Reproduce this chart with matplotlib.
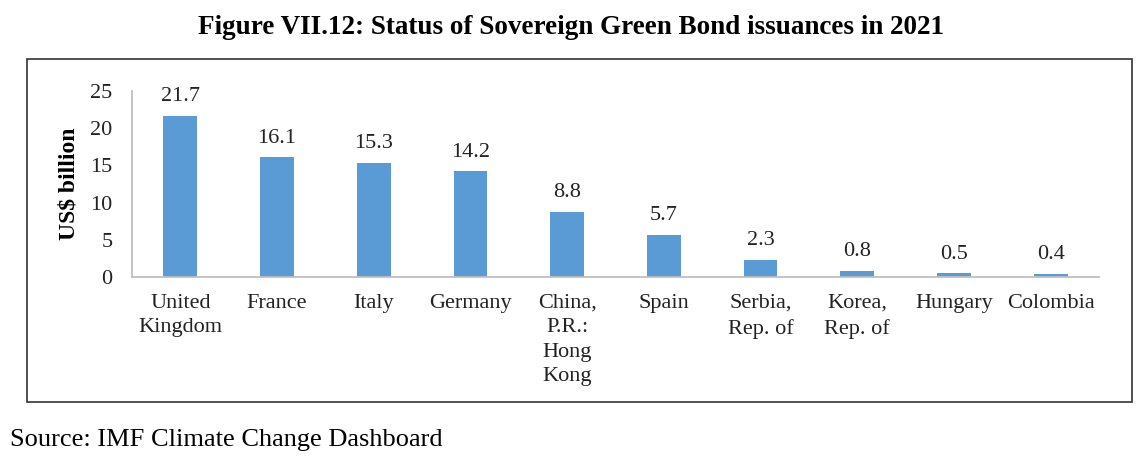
import matplotlib.pyplot as plt
from matplotlib.patches import Rectangle

countries = ['United\nKingdom', 'France', 'Italy', 'Germany',
             'China,\nP.R.:\nHong\nKong', 'Spain', 'Serbia,\nRep. of',
             'Korea,\nRep. of', 'Hungary', 'Colombia']
values = [21.7, 16.1, 15.3, 14.2, 8.8, 5.7, 2.3, 0.8, 0.5, 0.4]
yticks = [0, 5, 10, 15, 20, 25]

plt.rcParams['font.family'] = ['Liberation Serif', 'DejaVu Serif']

fig = plt.figure(figsize=(11.42, 4.74), dpi=100)
ax = fig.add_axes([0.1156, 0.4156, 0.9623 - 0.1156, 0.808 - 0.4156])

x = range(len(values))
ax.bar(x, values, width=0.35, color='#5B9BD5')
for i, v in zip(x, values):
    ax.annotate('%.1f' % v, (i, v), xytext=(0, 7), textcoords='offset points',
                ha='center', va='bottom', fontsize=16, color='#222222')

ax.set_xlim(-0.5, len(values) - 0.5)
ax.set_ylim(0, 25)
ax.set_yticks(yticks)
ax.set_xticks(list(x))
ax.set_xticklabels(countries, linespacing=1.4)
ax.tick_params(axis='both', length=0, labelsize=16, colors='#222222')
ax.tick_params(axis='x', pad=12)
ax.tick_params(axis='y', pad=14)
for s in ['top', 'right']:
    ax.spines[s].set_visible(False)
for s in ['left', 'bottom']:
    ax.spines[s].set_color('#BFBFBF')
    ax.spines[s].set_linewidth(1.3)
ax.set_ylabel('US$ billion', fontsize=17, fontweight='bold', labelpad=8)

fig.patches.append(Rectangle((27 / 1142, 1 - 402 / 474), (1132 - 27) / 1142,
                             (402 - 59) / 474, transform=fig.transFigure,
                             fill=False, edgecolor='#333333', linewidth=1.2))

fig.text(0.5, 1 - 27 / 474, 'Figure VII.12: Status of Sovereign Green Bond issuances in 2021',
         ha='center', va='center', fontsize=19.5, fontweight='bold')
fig.text(10 / 1142, 1 - 440 / 474, 'Source: IMF Climate Change Dashboard',
         ha='left', va='center', fontsize=19)

fig.savefig('out.png', dpi=100)
